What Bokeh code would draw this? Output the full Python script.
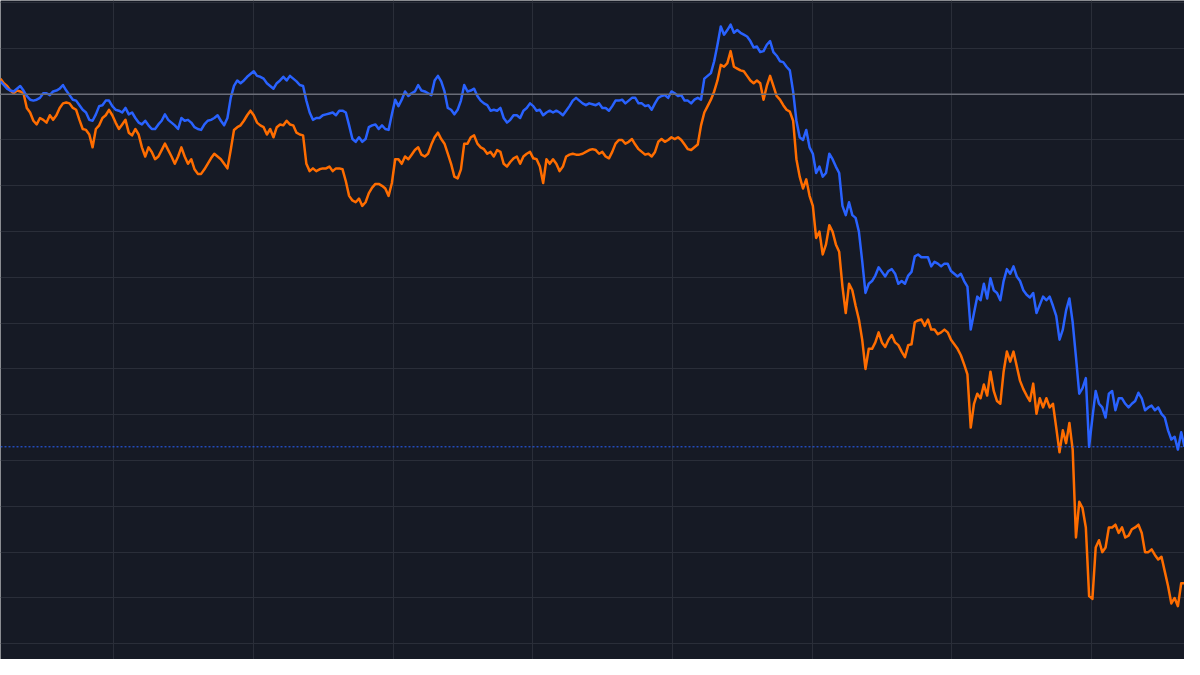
from bokeh.plotting import figure
from bokeh.models import Range1d, Span, FixedTicker
from bokeh.embed import file_html
from bokeh.resources import INLINE

# percent change from start (comparison chart), one value per bar
blue_pct = [
    1.4, 1.0, 0.6, 0.4, 0.3, 0.6, 0.9, 0.4, -0.2, -0.6,
    -0.7, -0.6, -0.4, 0.1, 0.1, -0.1, 0.3, 0.4, 0.6, 1.0,
    0.4, -0.1, -0.6, -0.7, -1.2, -1.7, -2.0, -2.8, -2.9, -2.2,
    -1.3, -1.2, -0.7, -0.7, -1.3, -1.7, -1.8, -2.0, -1.5, -2.2,
    -2.0, -2.6, -3.1, -3.3, -2.9, -3.4, -3.8, -3.8, -3.3, -2.9,
    -2.2, -2.8, -3.1, -3.4, -3.8, -2.6, -2.9, -2.8, -3.1, -3.6,
    -3.8, -3.9, -3.3, -2.9, -2.8, -2.6, -2.3, -2.9, -3.4, -2.6,
    -0.4, 0.9, 1.5, 1.2, 1.5, 1.9, 2.2, 2.5, 2.0, 1.9,
    1.7, 1.2, 0.9, 0.6, 1.2, 1.5, 1.9, 1.5, 2.0, 1.7,
    1.4, 1.0, 0.9, -0.7, -2.0, -2.8, -2.6, -2.6, -2.3, -2.2,
    -2.1, -2.0, -2.3, -1.8, -1.8, -2.0, -3.4, -4.9, -5.2, -4.7,
    -5.2, -4.9, -3.6, -3.4, -3.3, -3.8, -3.4, -3.8, -3.9, -2.2,
    -0.6, -1.3, -0.6, 0.3, -0.2, 0.1, 0.3, 1.0, 0.4, 0.3,
    0.1, -0.1, 1.5, 2.0, 1.4, 0.3, -1.5, -1.7, -2.2, -1.7,
    -0.7, 1.0, 0.3, 0.4, 0.6, -0.2, -0.7, -1.0, -1.2, -1.8,
    -1.7, -1.8, -1.5, -2.6, -3.1, -2.8, -2.3, -2.3, -2.6, -1.8,
    -1.5, -1.0, -1.3, -1.8, -1.7, -2.3, -2.0, -1.8, -2.0, -1.8,
    -2.0, -2.3, -1.8, -1.3, -0.7, -0.4, -0.7, -1.0, -1.2, -1.0,
    -1.1, -1.2, -1.0, -1.5, -1.5, -1.8, -1.3, -0.7, -0.7, -0.6,
    -1.0, -0.7, -0.4, -0.4, -1.0, -1.0, -1.3, -1.2, -1.7, -1.0,
    -0.4, -0.2, -0.1, -0.4, 0.3, 0.1, -0.2, -0.1, -0.7, -0.7,
    -1.0, -0.6, -0.4, -0.6, 1.7, 2.0, 2.3, 3.6, 5.4, 7.4,
    6.5, 7.0, 7.6, 6.7, 7.0, 6.7, 6.5, 6.3, 5.8, 5.1,
    5.2, 4.6, 4.7, 5.4, 5.8, 4.6, 4.2, 3.6, 3.5, 3.0,
    2.6, 0.3, -2.9, -4.7, -5.0, -3.9, -5.8, -6.5, -8.6, -7.9,
    -9.0, -8.6, -6.5, -7.1, -7.9, -8.6, -12.2, -13.2, -11.8, -13.2,
    -13.5, -15.0, -18.2, -21.7, -20.7, -20.4, -19.8, -18.9, -19.4, -19.9,
    -19.3, -19.1, -19.6, -20.7, -20.4, -20.7, -19.8, -19.4, -17.7, -17.5,
    -17.8, -17.8, -17.8, -18.8, -18.3, -18.5, -18.8, -18.5, -18.5, -19.3,
    -19.6, -19.9, -19.6, -20.4, -21.0, -25.7, -23.9, -22.1, -22.5, -20.7,
    -22.3, -20.1, -21.4, -21.7, -22.5, -20.4, -19.1, -19.6, -18.8, -19.9,
    -20.4, -21.4, -21.9, -22.2, -21.7, -23.9, -23.0, -22.1, -22.5, -22.1,
    -23.1, -24.2, -26.8, -25.7, -23.6, -22.3, -24.9, -28.7, -32.7, -32.1,
    -31.0, -38.5, -35.3, -32.4, -33.8, -34.2, -35.3, -32.7, -32.4, -34.5,
    -33.2, -33.2, -33.8, -34.2, -33.8, -33.5, -32.6, -33.2, -34.5, -34.2,
    -34.0, -34.5, -34.2, -34.9, -35.3, -36.7, -37.7, -37.4, -38.8, -36.9,
    -38.5,
]

orange_pct = [
    1.7, 1.2, 0.9, 0.4, 0.1, 0.4, 0.3, 0.1, -1.5, -2.0,
    -2.9, -3.3, -2.6, -2.8, -3.1, -2.3, -2.8, -2.3, -1.5, -1.0,
    -0.9, -1.0, -1.5, -1.7, -2.8, -3.8, -3.9, -4.4, -5.8, -3.8,
    -3.4, -2.6, -2.3, -1.7, -2.3, -3.1, -3.8, -3.3, -2.8, -4.2,
    -4.5, -3.8, -4.4, -5.8, -6.8, -5.8, -6.3, -7.1, -6.8, -6.1,
    -5.4, -6.1, -6.8, -7.6, -6.8, -5.8, -6.8, -7.6, -7.1, -8.2,
    -8.7, -8.7, -8.2, -7.6, -7.0, -6.5, -6.8, -7.1, -7.6, -8.1,
    -6.1, -3.9, -3.6, -3.4, -2.9, -2.3, -1.8, -2.3, -3.1, -3.4,
    -3.6, -4.4, -3.8, -4.7, -3.6, -3.3, -3.4, -2.9, -3.3, -3.4,
    -4.2, -4.4, -4.5, -7.6, -8.4, -8.1, -8.4, -8.2, -8.1, -8.1,
    -7.9, -8.4, -8.1, -8.1, -8.2, -9.5, -11.1, -11.6, -11.8, -11.4,
    -12.2, -11.8, -10.8, -10.2, -9.8, -9.8, -10.0, -10.3, -11.1, -9.7,
    -7.1, -7.1, -7.6, -6.8, -7.1, -6.6, -6.1, -5.8, -6.6, -6.8,
    -6.5, -5.5, -4.7, -4.2, -4.9, -5.4, -6.5, -7.6, -9.0, -9.2,
    -8.2, -5.4, -5.4, -4.7, -4.5, -5.4, -5.8, -6.0, -6.5, -6.3,
    -6.8, -6.1, -6.3, -7.6, -7.9, -7.4, -7.0, -6.8, -7.6, -6.8,
    -6.5, -6.3, -7.0, -7.1, -7.9, -9.7, -7.1, -7.6, -7.1, -7.6,
    -8.4, -7.9, -6.8, -6.6, -6.5, -6.6, -6.6, -6.5, -6.3, -6.1,
    -6.0, -6.1, -6.5, -6.3, -6.8, -7.0, -6.3, -5.4, -5.0, -5.0,
    -5.4, -5.2, -4.9, -5.5, -6.0, -6.3, -6.6, -6.5, -6.8, -6.3,
    -5.2, -4.9, -5.2, -5.0, -4.7, -4.9, -4.7, -5.0, -5.5, -6.0,
    -6.1, -5.8, -5.5, -3.4, -2.0, -1.3, -0.6, 0.3, 1.5, 3.2,
    3.0, 3.4, 4.7, 3.0, 2.8, 2.6, 2.5, 2.0, 1.5, 1.2,
    1.5, 1.2, -0.6, 0.9, 2.0, 0.9, -0.2, -0.6, -1.2, -1.7,
    -1.9, -2.9, -7.1, -9.0, -10.3, -9.3, -11.1, -12.2, -15.7, -15.0,
    -17.5, -16.4, -14.3, -15.0, -16.4, -17.2, -21.0, -23.9, -20.7, -21.4,
    -23.1, -24.6, -26.8, -30.0, -27.8, -27.8, -27.1, -26.0, -27.1, -27.6,
    -26.8, -26.3, -27.1, -27.4, -28.1, -28.7, -27.4, -27.3, -24.9, -24.7,
    -24.6, -25.3, -24.6, -25.7, -25.7, -26.2, -26.0, -25.7, -26.0, -26.8,
    -27.3, -27.8, -28.5, -29.5, -30.6, -36.4, -33.8, -32.7, -33.2, -31.7,
    -32.9, -30.3, -32.4, -33.5, -33.8, -30.3, -28.1, -29.2, -28.1, -29.7,
    -31.3, -32.2, -32.9, -33.5, -31.6, -34.9, -33.2, -34.2, -33.2, -34.2,
    -33.8, -36.4, -39.1, -36.7, -38.1, -35.9, -38.8, -48.4, -44.5, -45.2,
    -47.3, -54.8, -55.1, -49.5, -48.7, -50.0, -49.5, -47.3, -47.3, -47.0,
    -47.9, -47.3, -48.4, -48.2, -47.5, -47.3, -47.0, -47.9, -50.0, -50.0,
    -49.7, -50.3, -50.8, -50.5, -52.1, -53.7, -55.6, -55.0, -55.9, -53.4,
    -53.4,
]

bars = list(range(len(blue_pct)))

# grid ticks
x_ticks = [34.4, 76.9, 119.4, 161.8, 204.3, 246.8, 289.3, 331.8]
y_ticks = [10, 5, 0, -5, -10, -15, -20, -25, -30, -35, -40, -45, -50, -55, -60]

BG = "#161a25"
GRID = "#2a2e39"
BLUE = "#2962ff"
ORANGE = "#ff6d00"

p = figure(width=1184, height=659, output_backend="svg", toolbar_location=None,
           x_range=Range1d(0, 360), y_range=Range1d(-61.72, 10.23),
           background_fill_color=BG, border_fill_color=BG,
           min_border=0, outline_line_color=None)
p.xaxis.visible = False
p.yaxis.visible = False
p.xgrid.ticker = FixedTicker(ticks=x_ticks)
p.ygrid.ticker = FixedTicker(ticks=y_ticks)
p.xgrid.grid_line_color = GRID
p.ygrid.grid_line_color = GRID
p.xgrid.grid_line_width = 1
p.ygrid.grid_line_width = 1

p.add_layout(Span(location=0, dimension="width", line_color="#6a6d78", line_width=1.5))

p.line(bars, orange_pct, line_color=ORANGE, line_width=2.5, line_join="round")
p.line(bars, blue_pct, line_color=BLUE, line_width=2.5, line_join="round")

p.add_layout(Span(location=blue_pct[-1], dimension="width", line_color=BLUE,
                  line_width=1, line_dash="2 2"))

open("out.html", "w").write(file_html(p, INLINE))
